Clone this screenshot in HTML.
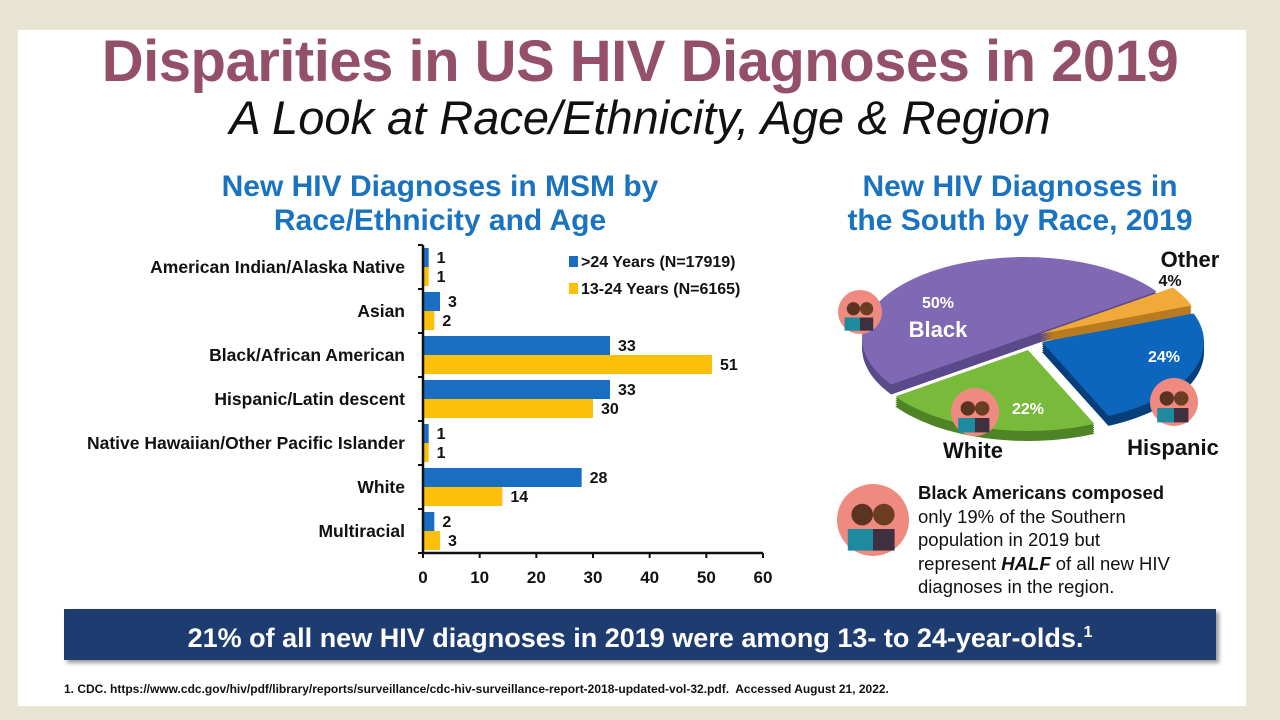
<!DOCTYPE html>
<html><head><meta charset="utf-8">
<style>
body{margin:0;width:1280px;height:720px;background:#e8e4d2;position:relative;overflow:hidden;font-family:"Liberation Sans",sans-serif;}
#panel{position:absolute;left:18px;top:30px;width:1228px;height:676px;background:#fff;}
.abs{position:absolute;}
#title{left:0;width:1280px;top:28px;text-align:center;font-size:58px;font-weight:bold;color:#94506a;letter-spacing:-0.5px;}
#sub{left:0;width:1280px;top:90px;text-align:center;font-size:47px;font-style:italic;color:#111;}
.h2{font-size:30px;font-weight:bold;color:#1a73c0;text-align:center;line-height:34px;}
#banner{left:64px;top:609px;width:1152px;height:51px;background:#1f3c71;color:#fff;font-size:27px;font-weight:bold;text-align:center;line-height:48px;box-shadow:3px 3px 4px #999;}
#foot{left:64px;top:682px;font-size:12px;font-weight:bold;color:#111;}
#note{left:918px;top:481px;font-size:18.5px;line-height:23.5px;color:#111;white-space:nowrap;}
</style></head><body>
<div id="panel"></div>
<div id="title" class="abs">Disparities in US HIV Diagnoses in 2019</div>
<div id="sub" class="abs">A Look at Race/Ethnicity, Age &amp; Region</div>
<div class="abs h2" style="left:100px;width:680px;top:170px">New HIV Diagnoses in MSM by<br>Race/Ethnicity and Age</div>
<div class="abs h2" style="left:800px;width:440px;top:170px">New HIV Diagnoses in<br>the South by Race, 2019</div>
<svg class="abs" style="left:0;top:0" width="1280" height="720" id="bars"></svg>
<svg class="abs" style="left:0;top:0" width="1280" height="720" id="pie"></svg>
<div id="note" class="abs"><b>Black Americans composed</b><br>only 19% of the Southern<br>population in 2019 but<br>represent <b><i>HALF</i></b> of all new HIV<br>diagnoses in the region.</div>
<div id="banner" class="abs">21% of all new HIV diagnoses in 2019 were among 13- to 24-year-olds.<sup style="font-size:16px">1</sup></div>
<div id="foot" class="abs">1. CDC. https://www.cdc.gov/hiv/pdf/library/reports/surveillance/cdc-hiv-surveillance-report-2018-updated-vol-32.pdf.&nbsp; Accessed August 21, 2022.</div>
<script>
const categories=["American Indian/Alaska Native","Asian","Black/African American","Hispanic/Latin descent","Native Hawaiian/Other Pacific Islander","White","Multiracial"];
const older=[1,3,33,33,1,28,2];
const younger=[1,2,51,30,1,14,3];
const xTicks=[0,10,20,30,40,50,60];
const pieLabels=["Black","Other","Hispanic","White"];
const pieValues=[50,4,24,22];
const NS="http://www.w3.org/2000/svg";
function mk(p,t,a,txt){const e=document.createElementNS(NS,t);for(const k in a)e.setAttribute(k,a[k]);if(txt!==undefined)e.textContent=txt;p.appendChild(e);return e;}
const svg=document.getElementById('bars');
const X0=423,X1=763,Y0=245,ROW=44;
const xs=v=>X0+(v-0)/(60-0)*(X1-X0);
const ys=i=>Y0+i*ROW;
categories.forEach((c,i)=>{
  const top=ys(i);
  let t=mk(svg,'text',{x:405,y:top+28,'text-anchor':'end','font-size':17.5,'font-weight':'bold',fill:'#111'},c);
  
  let b=mk(svg,'rect',{x:X0,y:top+3,width:xs(older[i])-X0,height:19,fill:'#1a6ec2'});
  
  let y=mk(svg,'rect',{x:X0,y:top+22,width:xs(younger[i])-X0,height:19,fill:'#fcbf0a'});
  
  let l1=mk(svg,'text',{x:xs(older[i])+8,y:top+18,'font-size':16,'font-weight':'bold',fill:'#111'},older[i]);
  
  let l2=mk(svg,'text',{x:xs(younger[i])+8,y:top+37,'font-size':16,'font-weight':'bold',fill:'#111'},younger[i]);
  
});
mk(svg,'line',{x1:X0,y1:Y0,x2:X0,y2:ys(7),stroke:'#111','stroke-width':2.5});
mk(svg,'line',{x1:X0,y1:ys(7),x2:X1,y2:ys(7),stroke:'#111','stroke-width':2.5});
for(let i=0;i<=7;i++)mk(svg,'line',{x1:X0-5,y1:ys(i),x2:X0,y2:ys(i),stroke:'#111','stroke-width':2});
xTicks.forEach(v=>{mk(svg,'line',{x1:xs(v),y1:ys(7),x2:xs(v),y2:ys(7)+5,stroke:'#111','stroke-width':2});
  let t=mk(svg,'text',{x:xs(v),y:ys(7)+30,'text-anchor':'middle','font-size':17,'font-weight':'bold',fill:'#111'},v);
  });
mk(svg,'rect',{x:569,y:256,width:9,height:11,fill:'#1a6ec2'});
let lg1=mk(svg,'text',{x:581,y:267,'font-size':16,'font-weight':'bold',fill:'#111'},'>24 Years (N=17919)');

mk(svg,'rect',{x:569,y:283,width:9,height:11,fill:'#fcbf0a'});
let lg2=mk(svg,'text',{x:581,y:294,'font-size':16,'font-weight':'bold',fill:'#111'},'13-24 Years (N=6165)');


// pie
const ps=document.getElementById('pie');
const colors=['#7f68b4','#f1a93a','#0c66bd','#78bb3a'];
const dark=['#5a4a8a','#b87b20','#073f7a','#4f8426'];
const CX=1030,CY=342,R=162,SY=0.5,DEPTH=10;
const offs=[[-6,-4],[10,-8],[12,0],[-2,8]];
const total=pieValues.reduce((a,b)=>a+b,0);
function arc(cx,cy,a0,a1,dy){const p=a=>[cx+R*Math.cos(a),cy+R*SY*Math.sin(a)+dy];
  const s=p(a0),e=p(a1),lg=(a1-a0)>Math.PI?1:0;
  return `M${cx},${cy+dy}L${s[0]},${s[1]}A${R},${R*SY} 0 ${lg} 1 ${e[0]},${e[1]}Z`;}
let a=Math.PI*145/180;const angs=[];
pieValues.forEach(v=>{const a1=a+v/total*2*Math.PI;angs.push([a,a1]);a=a1;});
[0,1,2,3].forEach(i=>{const [a0,a1]=angs[i];const cx=CX+offs[i][0],cy=CY+offs[i][1];
  for(let d=DEPTH;d>0;d-=2)mk(ps,'path',{d:arc(cx,cy,a0,a1,d),fill:dark[i]});});
[0,1,2,3].forEach(i=>{const [a0,a1]=angs[i];const cx=CX+offs[i][0],cy=CY+offs[i][1];
  let s=mk(ps,'path',{d:arc(cx,cy,a0,a1,0),fill:colors[i]});
  });
const txt=(x,y,s,sz,fill,name)=>{let t=mk(ps,'text',{x:x,y:y,'text-anchor':'middle','font-size':sz,'font-weight':'bold',fill:fill},s);
  };
txt(938,308,pieValues[0]+'%',16,'#fff','pct-black');txt(938,337,'Black',22,'#fff','label-black');
txt(1190,267,'Other',22,'#111','label-other');txt(1170,286,pieValues[1]+'%',16,'#111','pct-other');
txt(1164,362,pieValues[2]+'%',16,'#fff','pct-hispanic');txt(1173,455,'Hispanic',22,'#111','label-hispanic');
txt(1028,414,pieValues[3]+'%',16,'#fff','pct-white');txt(973,458,'White',22,'#111','label-white');
function avatar(cx,cy,r,name){const g=mk(ps,'g',{});
  mk(g,'circle',{cx:cx,cy:cy,r:r,fill:'#ef8a80'});
  mk(g,'circle',{cx:cx-r*0.3,cy:cy-r*0.15,r:r*0.3,fill:'#5a3420'});
  mk(g,'circle',{cx:cx+r*0.3,cy:cy-r*0.15,r:r*0.3,fill:'#6b3d22'});
  mk(g,'rect',{x:cx-r*0.7,y:cy+r*0.25,width:r*0.7,height:r*0.6,fill:'#1d8aa0'});
  mk(g,'rect',{x:cx,y:cy+r*0.25,width:r*0.6,height:r*0.6,fill:'#3d3040'});}
avatar(860,312,22,'avatar-black');avatar(975,412,24,'avatar-white');avatar(1174,402,24,'avatar-hispanic');avatar(873,520,36,'avatar-note');
</script>
</body></html>
